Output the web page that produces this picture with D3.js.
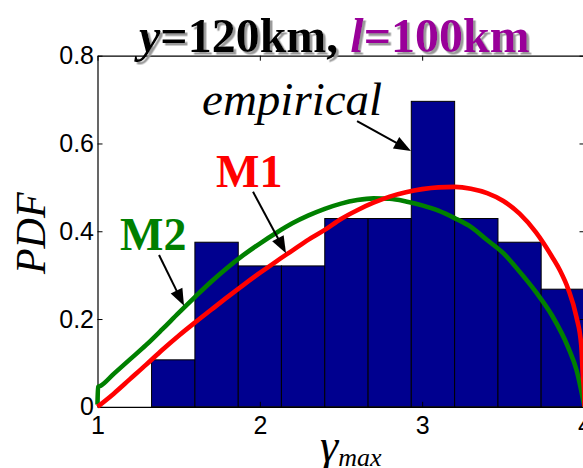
<!DOCTYPE html>
<html>
<head>
<meta charset="utf-8">
<script src="https://cdn.jsdelivr.net/npm/d3@7"></script>
<style>
  html, body { margin: 0; padding: 0; background: #fff; overflow: hidden; }
  svg { display: block; }
</style>
</head>
<body>
<svg id="chart" width="583" height="468"></svg>
<script>
// Histogram of gamma_max (empirical) with two model densities
const xTicks = [1, 2, 3, 4];
const yTicks = [0, 0.2, 0.4, 0.6, 0.8];

const binEdges   = [1.333, 1.6, 1.867, 2.133, 2.4, 2.667, 2.933, 3.2, 3.467, 3.733, 4.0];
const binHeights = [0.107, 0.375, 0.321, 0.321, 0.429, 0.429, 0.696, 0.429, 0.375, 0.268];

// Model M1 density
const m1X = [1.0, 1.1, 1.2, 1.3, 1.4, 1.5, 1.6, 1.7, 1.8, 1.9, 2.0, 2.1, 2.2, 2.3, 2.4, 2.5, 2.6, 2.7, 2.8, 2.9,
             3.0, 3.1, 3.2, 3.3, 3.4, 3.5, 3.6, 3.7, 3.8, 3.85, 3.9, 3.95, 3.98, 3.99, 3.998, 4.0];
const m1Y = [0.0, 0.030, 0.063, 0.096, 0.130, 0.162, 0.192, 0.221, 0.250, 0.278, 0.305, 0.331, 0.356, 0.381, 0.403,
             0.428, 0.448, 0.465, 0.479, 0.489, 0.496, 0.500, 0.501, 0.497, 0.487, 0.469, 0.440, 0.398, 0.342,
             0.310, 0.268, 0.205, 0.140, 0.070, 0.030, 0.0];

// Model M2 density
const m2X = [1.0, 1.003, 1.02, 1.1, 1.2, 1.3, 1.4, 1.5, 1.6, 1.7, 1.8, 1.9, 2.0, 2.1, 2.2, 2.3, 2.4, 2.5, 2.6, 2.7, 2.8,
             2.9, 3.0, 3.1, 3.2, 3.3, 3.4, 3.5, 3.6, 3.7, 3.8, 3.9, 3.95, 4.0];
const m2Y = [0.005, 0.045, 0.048, 0.075, 0.108, 0.141, 0.177, 0.214, 0.250, 0.285, 0.317, 0.346, 0.372, 0.396, 0.418,
             0.436, 0.451, 0.463, 0.471, 0.475, 0.474, 0.468, 0.459, 0.447, 0.430, 0.410, 0.380, 0.350, 0.308,
             0.262, 0.208, 0.135, 0.085, 0.0];

// Annotation labels and arrows (data units)
const labels = [
  { text: "empirical", x: 1.644, y: 0.665, color: "#000", style: "italic", weight: "normal", size: 47 },
  { text: "M1",        x: 1.730, y: 0.501, color: "#ff0000", style: "normal", weight: "bold", size: 46 },
  { text: "M2",        x: 1.139, y: 0.357, color: "#007f00", style: "normal", weight: "bold", size: 46 }
];
const arrows = [
  { x0: 2.599, y0: 0.651, x1: 2.931, y1: 0.583 },
  { x0: 1.958, y0: 0.490, x1: 2.161, y1: 0.350 },
  { x0: 1.379, y0: 0.346, x1: 1.533, y1: 0.230 }
];

const colors = { bar: "#00008f", m1: "#ff0000", m2: "#008000", purple: "#990099" };

const svg = d3.select("#chart");
const x = d3.scaleLinear().domain([1, 4]).range([97.5, 584.5]);
const y = d3.scaleLinear().domain([0, 0.8]).range([406.8, 55.7]);

// Soft grey shadow used behind the title
svg.append("defs").append("filter").attr("id", "titleShadow")
  .attr("x", "-5%").attr("y", "-20%").attr("width", "110%").attr("height", "140%")
  .append("feDropShadow")
  .attr("dx", 2.5).attr("dy", 2.5).attr("stdDeviation", 0.6)
  .attr("flood-color", "#9a9a9a").attr("flood-opacity", 1);

// Bars
const bins = binHeights.map((h, i) => ({ x0: binEdges[i], x1: binEdges[i + 1], h }));
svg.append("g").selectAll("rect").data(bins).join("rect")
  .attr("x", d => x(d.x0))
  .attr("y", d => y(d.h))
  .attr("width", d => x(d.x1) - x(d.x0))
  .attr("height", d => y(0) - y(d.h))
  .attr("fill", colors.bar)
  .attr("stroke", "#000")
  .attr("stroke-width", 1);

// Axes box with inward ticks
const tickFont = "'Liberation Sans', Arial, sans-serif";
function styleAxis(g, showLabels) {
  g.select(".domain").attr("stroke", "#000").attr("stroke-width", 1.2);
  g.selectAll(".tick line").attr("stroke", "#000").attr("stroke-width", 1);
  g.selectAll(".tick text")
    .attr("font-family", tickFont).attr("font-size", 25).attr("fill", "#000")
    .style("display", showLabels ? null : "none");
}
svg.append("g").attr("transform", `translate(0,${y(0)})`)
  .call(d3.axisBottom(x).tickValues(xTicks).tickSizeInner(-5).tickSizeOuter(0).tickPadding(9).tickFormat(d3.format("d")))
  .call(g => styleAxis(g, true));
svg.append("g").attr("transform", `translate(0,${y(0.8)})`)
  .call(d3.axisTop(x).tickValues(xTicks).tickSizeInner(-5).tickSizeOuter(0))
  .call(g => styleAxis(g, false));
svg.append("g").attr("transform", `translate(${x(1)},0)`)
  .call(d3.axisLeft(y).tickValues(yTicks).tickSizeInner(-5).tickSizeOuter(0).tickPadding(3.5).tickFormat(d3.format("~g")))
  .call(g => styleAxis(g, true));
svg.append("g").attr("transform", `translate(${x(4)},0)`)
  .call(d3.axisRight(y).tickValues(yTicks).tickSizeInner(-5).tickSizeOuter(0))
  .call(g => styleAxis(g, false));

// Model curves
const line = d3.line().x(d => x(d[0])).y(d => y(d[1])).curve(d3.curveMonotoneX);
svg.append("path").datum(d3.zip(m2X, m2Y)).attr("d", line)
  .attr("fill", "none").attr("stroke", colors.m2).attr("stroke-width", 4.6)
  .attr("stroke-linejoin", "round");
svg.append("path").datum(d3.zip(m1X, m1Y)).attr("d", line)
  .attr("fill", "none").attr("stroke", colors.m1).attr("stroke-width", 4.6)
  .attr("stroke-linejoin", "round");

// Arrows
const headLen = 17, headHalf = 6.5;
arrows.forEach(a => {
  const sx = x(a.x0), sy = y(a.y0), tx = x(a.x1), ty = y(a.y1);
  const dx = tx - sx, dy = ty - sy, len = Math.hypot(dx, dy);
  const ux = dx / len, uy = dy / len;
  const bx = tx - ux * headLen, by = ty - uy * headLen;
  svg.append("line").attr("x1", sx).attr("y1", sy).attr("x2", bx + ux * 2).attr("y2", by + uy * 2)
    .attr("stroke", "#000").attr("stroke-width", 2);
  svg.append("path")
    .attr("d", `M${tx},${ty}L${bx - uy * headHalf},${by + ux * headHalf}L${bx + uy * headHalf},${by - ux * headHalf}Z`)
    .attr("fill", "#000");
});

// Labels
const serif = "'Liberation Serif', 'Times New Roman', serif";
svg.append("g").selectAll("text").data(labels).join("text")
  .attr("x", d => x(d.x)).attr("y", d => y(d.y))
  .attr("font-family", serif).attr("font-size", d => d.size)
  .attr("font-style", d => d.style).attr("font-weight", d => d.weight)
  .attr("fill", d => d.color)
  .text(d => d.text);

// Title
const title = svg.append("text").attr("x", 139).attr("y", 52)
  .attr("font-family", serif).attr("font-size", 48).attr("font-weight", "bold")
  .attr("filter", "url(#titleShadow)");
title.append("tspan").attr("font-style", "italic").attr("fill", "#000").text("y");
title.append("tspan").attr("fill", "#000").text("=120km, ");
title.append("tspan").attr("font-style", "italic").attr("fill", colors.purple).text("l");
title.append("tspan").attr("fill", colors.purple).text("=100km");

// Axis titles
svg.append("text")
  .attr("transform", `translate(45,${(y(0) + y(0.8)) / 2 + 2}) rotate(-90)`)
  .attr("text-anchor", "middle")
  .attr("font-family", serif).attr("font-size", 42).attr("font-style", "italic")
  .text("PDF");
const xl = svg.append("text").attr("x", 320).attr("y", 461)
  .attr("font-family", serif).attr("font-style", "italic");
xl.append("tspan").attr("font-size", 46).text("γ");
xl.append("tspan").attr("font-size", 26).attr("dy", 5).text("max");
</script>
</body>
</html>
